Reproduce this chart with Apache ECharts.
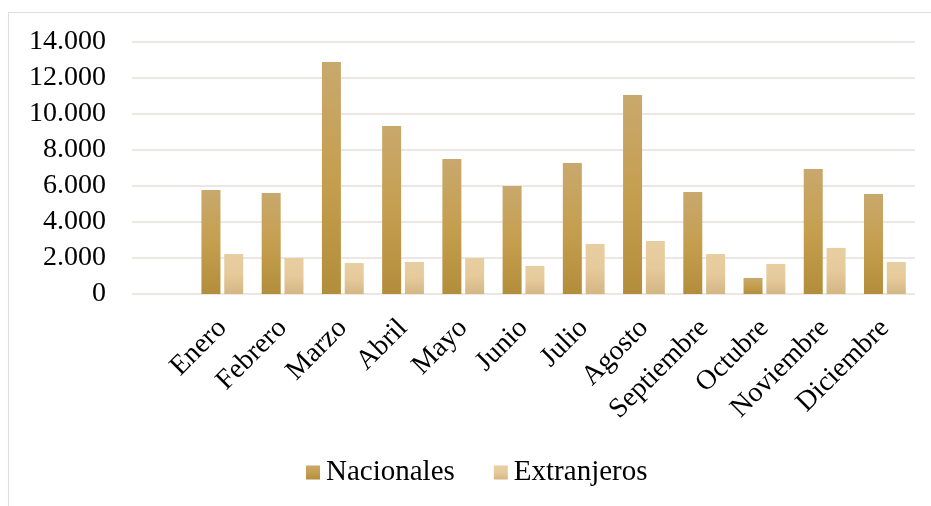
<!DOCTYPE html>
<html>
<head>
<meta charset="utf-8">
<script src="https://cdn.jsdelivr.net/npm/echarts@6/dist/echarts.min.js"></script>
<style>
  html, body { margin: 0; padding: 0; background: #fff; overflow: hidden; }
  #frame { position: absolute; left: 8px; top: 12px; width: 940px; height: 520px; border: 1px solid #e3dedb; }
  #main { position: absolute; left: 0; top: 0; width: 931px; height: 506px; }
</style>
</head>
<body>
<div id="frame"></div>
<div id="main"></div>
<script>
// datos
var meses = ["Enero", "Febrero", "Marzo", "Abril", "Mayo", "Junio", "Julio", "Agosto", "Septiembre", "Octubre", "Noviembre", "Diciembre"];
var nacionales = [5780, 5610, 12890, 9330, 7500, 6000, 7280, 11060, 5670, 890, 6940, 5560];
var extranjeros = [2220, 2000, 1720, 1780, 2000, 1560, 2780, 2940, 2220, 1670, 2560, 1780];
var yTicks = [0, 2000, 4000, 6000, 8000, 10000, 12000, 14000];

var fuente = '"Liberation Serif", "Times New Roman", serif';

// el gráfico original deja una categoría vacía al inicio
var categorias = [""].concat(meses);
var serieNac = [null].concat(nacionales);
var serieExt = [null].concat(extranjeros);

function grad(c1, c2, c3) {
  return new echarts.graphic.LinearGradient(0, 0, 0, 1, [
    { offset: 0, color: c1 },
    { offset: 0.5, color: c2 },
    { offset: 1, color: c3 }
  ]);
}

var myChart = echarts.init(document.getElementById("main"));
var option = {
  animation: false,
  textStyle: { fontFamily: fuente },
  grid: { left: 132, right: 16, top: 42, bottom: 212, containLabel: false },
  legend: {
    bottom: 14,
    left: 301,
    itemWidth: 14,
    itemHeight: 14,
    itemGap: 39,
    icon: "rect",
    textStyle: { fontFamily: fuente, fontSize: 29, color: "#000", padding: [0, 0, 0, 1] },
    data: ["Nacionales", "Extranjeros"]
  },
  xAxis: {
    type: "category",
    data: categorias,
    axisLine: { show: false },
    axisTick: { show: false },
    axisLabel: {
      interval: 0,
      rotate: 45,
      margin: 30,
      fontSize: 28,
      fontFamily: fuente,
      color: "#000"
    }
  },
  yAxis: {
    type: "value",
    min: yTicks[0],
    max: yTicks[yTicks.length - 1],
    interval: 2000,
    axisLine: { show: false },
    axisTick: { show: false },
    splitLine: { lineStyle: { color: "#ece6e4", width: 2 } },
    axisLabel: {
      margin: 26,
      fontSize: 28,
      fontFamily: fuente,
      color: "#000",
      formatter: function (v) {
        return String(v).replace(/\B(?=(\d{3})+(?!\d))/g, ".");
      }
    }
  },
  series: [
    {
      name: "Nacionales",
      type: "bar",
      barWidth: 19,
      barGap: "20%",
      itemStyle: { color: grad("#c8a86d", "#c59f4f", "#b28d3b") },
      data: serieNac
    },
    {
      name: "Extranjeros",
      type: "bar",
      barWidth: 19,
      itemStyle: { color: grad("#e7cea1", "#e6ca9b", "#d4b684") },
      data: serieExt
    }
  ]
};
myChart.setOption(option);
</script>
</body>
</html>
